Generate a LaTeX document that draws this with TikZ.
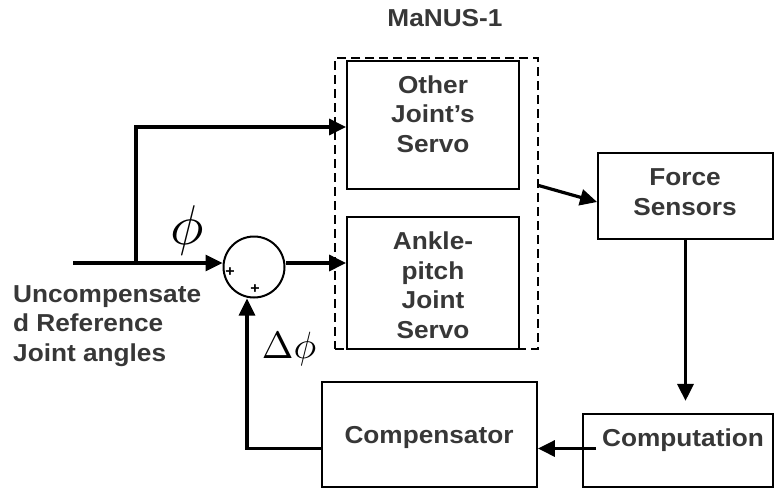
\documentclass[tikz,border=0pt]{standalone}
\usepackage{fontspec}
\setmainfont{Liberation Sans}[FakeStretch=1.07]
\usetikzlibrary{arrows.meta}
\definecolor{txtgray}{RGB}{55,55,55}
\begin{document}
\begin{tikzpicture}[x=1pt,y=-1pt,
  lbl/.style={font=\bfseries\fontsize{24.5}{29.5}\selectfont, text=txtgray, align=center, inner sep=0pt},
  blk/.style={draw, line width=1.8pt, inner sep=0pt},
  flow/.style={line width=3.2pt, -{Triangle[length=17pt,width=16pt]}},
  grpbox/.style={draw, line width=1.3pt, dash pattern=on 9pt off 5pt, inner sep=0pt},
  sgn/.style={font=\bfseries\fontsize{15}{15}\selectfont, inner sep=0pt}]
\useasboundingbox (0,0) rectangle (774,488);
% boxes
\node[grpbox, minimum width=203pt, minimum height=291pt] (grp) at (436.5,203.5) {};
\node[blk, minimum width=172pt, minimum height=128pt] (other) at (433,125) {};
\node[blk, minimum width=172pt, minimum height=132pt] (ankle) at (433,283) {};
\node[blk, minimum width=175pt, minimum height=86pt] (force) at (685.5,196) {};
\node[blk, minimum width=190pt, minimum height=73pt] (computation) at (678,450.5) {};
\node[blk, minimum width=215pt, minimum height=105pt] (compensator) at (429.5,434.5) {};
\node[draw, circle, line width=2pt, minimum size=61pt, inner sep=0pt] (sum) at (254,267) {};
% texts
\node[lbl] (tman) at (445,18) {MaNUS-1};
\node[lbl] (tother) at (433,114) {Other\\Joint’s\\Servo};
\node[lbl] (tankle) at (433,285) {Ankle-\\pitch\\Joint\\Servo};
\node[lbl] (tforce) at (685,192) {Force\\Sensors};
\node[lbl] (tcomputation) at (683,440) {Computation};
\node[lbl] (tcompensator) at (429,437) {Compensator};
\node[lbl, align=left, anchor=north west] (tin) at (13,285) {Uncompensate\\d Reference\\Joint angles};
\node[scale=5.6, inner sep=0pt] (phi) at (187,230) {$\phi$};
\node[scale=3.8, inner sep=0pt] (dphi) at (289,349) {$\Delta\phi$};
\node[sgn] (p1) at (230,272) {+};
\node[sgn] (p2) at (255,289) {+};
% connectors
\coordinate (in) at (73,263);
\coordinate (br) at (136,263);
\draw[line width=3.2pt] (in) -- (br);
\draw[flow] (br) -- (sum.west |- br);
\draw[flow] (br) |- ([yshift=-2pt]other.west);
\draw[flow] (sum.east |- br) -- (ankle.west |- br);
\draw[flow] ([yshift=18pt]grp.east) -- ([yshift=-6pt]force.west);
\draw[flow] (force.south) -- ++(0,161);
\coordinate (cs) at ([xshift=14pt,yshift=2pt]computation.west);
\draw[flow] (cs) -- (compensator.east |- cs);
\draw[flow] (compensator.west |- cs) -| ([xshift=-7pt]sum.south);
\end{tikzpicture}
\end{document}
